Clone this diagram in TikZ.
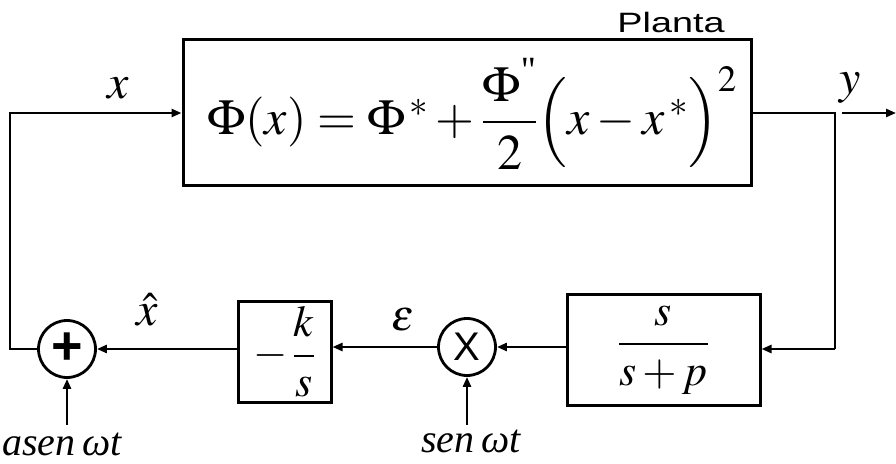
\documentclass[tikz,border=0pt]{standalone}
\usepackage{amsmath}
\usepackage{mathptmx}
\usepackage[no-math]{fontspec}
\setmainfont{Liberation Serif}
\newfontfamily\arialfont{Liberation Sans}
\usetikzlibrary{arrows.meta}
\tikzset{
  blk/.style={draw, line width=3pt, rectangle, inner sep=0pt},
  junc/.style={draw, line width=2.8pt, circle, minimum size=57pt, inner sep=0pt},
  wire/.style={line width=2.8pt},
  arr/.style={wire, -{Triangle[length=10pt,width=8pt]}},
  lbl/.style={inner sep=0pt, font=\fontsize{48}{52}\selectfont},
  sin/.style={inner sep=0pt, font=\itshape\fontsize{40}{44}\selectfont},
  sym/.style={inner sep=0pt, font=\arialfont\fontsize{40}{44}\selectfont}
}
\begin{document}
\begin{tikzpicture}[x=1pt,y=-1pt]
\useasboundingbox (0,0) rectangle (896,463);
% blocks
\node[blk, minimum width=568pt, minimum height=146pt] (plant) at (467,112) {};
\node[inner sep=0pt, font=\fontsize{50}{54}\selectfont] (eq) at (472,114)
  {$\Phi(x)=\Phi^{\,*}+\dfrac{\Phi^{\text{\textquotedbl}}}{2}\Bigl(x-x^{\,*}\Bigr)^{2}$};
\node[inner sep=0pt, font=\arialfont\fontsize{28}{32}\selectfont, xscale=1.35, transform shape] (planta) at (671,22) {Planta};
\node[blk, minimum width=193pt, minimum height=111pt] (hpf) at (663.5,349.5) {};
\node[inner sep=0pt, font=\fontsize{44}{48}\selectfont] (hpft) at (663.5,350) {$\dfrac{s}{s+p}$};
\node[blk, minimum width=93pt, minimum height=101pt] (integ) at (284.5,352) {};
\node[inner sep=0pt, font=\fontsize{44}{48}\selectfont] (integt) at (284.5,352) {$-\,\dfrac{k}{s}$};
\node[junc] (mult) at (467,347) {};
\node[sym] (multt) at (467,347) {X};
\node[junc] (sum) at (67,349) {};
\node[sym, font=\arialfont\bfseries\fontsize{54}{58}\selectfont] (sumt) at (67,349) {+};
% coordinates
\coordinate (tl) at (10,113);
\coordinate (bl) at (10,349);
\coordinate (tr) at (835,113);
\coordinate (br) at (835,349);
\coordinate (ys) at (842,113);
\coordinate (ye) at (896,113);
\coordinate (a1) at (67,425);
\coordinate (a2) at (467,425);
% wires
\draw[arr] (sum.west) -- (bl) -- (tl) -- (plant.west |- tl);
\draw[wire] (plant.east |- tr) -- (tr) -- (br);
\draw[arr] (br) -- (hpf.east |- br);
\draw[arr] (ys) -- (ye);
\draw[arr] (hpf.west |- mult) -- (mult.east);
\draw[arr] (mult.west) -- (integ.east |- mult);
\draw[arr] (integ.west |- sum) -- (sum.east);
\draw[arr] (a1) -- (sum.south);
\draw[arr] (a2) -- (mult.south);
% labels
\node[lbl] (lx) at (118,88) {$x$};
\node[lbl] (ly) at (850,88) {$y$};
\node[lbl] (lxh) at (147,310) {$\hat{x}$};
\node[lbl, font=\fontsize{44}{48}\selectfont] (leps) at (403,320) {$\varepsilon$};
\node[sin] (la) at (62,444) {asen\,ωt};
\node[sin] (ls) at (471,441) {sen\,ωt};
\end{tikzpicture}
\end{document}
